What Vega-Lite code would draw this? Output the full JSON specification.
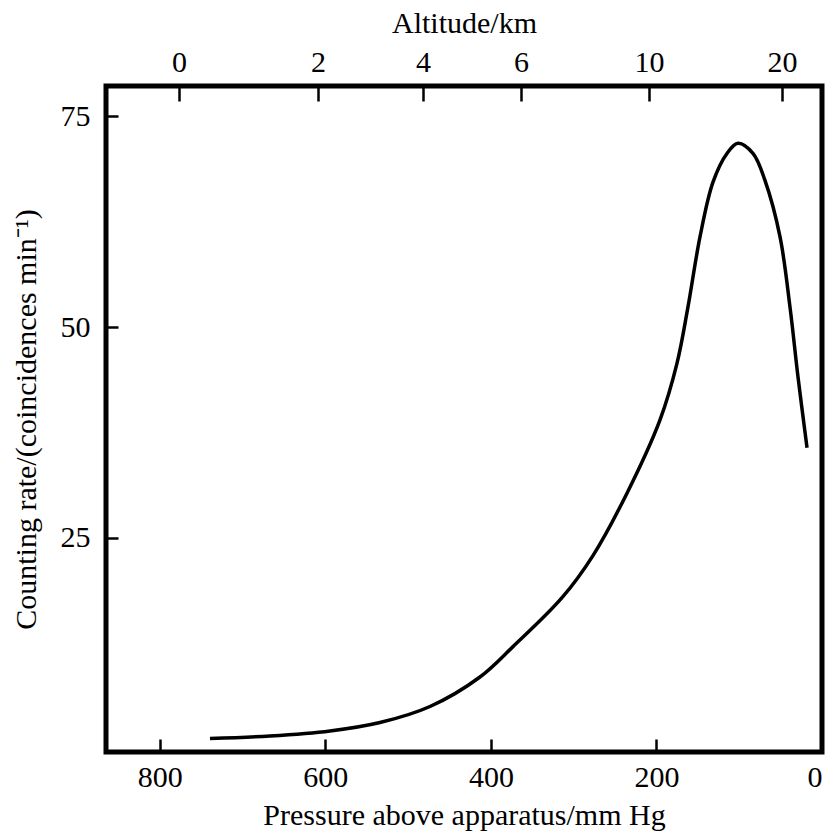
{
  "$schema": "https://vega.github.io/schema/vega-lite/v6.json",
  "width": 716,
  "height": 666,
  "autosize": "none",
  "padding": {"left": 106, "top": 86, "right": 11, "bottom": 86},
  "background": "white",
  "config": {
    "view": {"stroke": "black", "strokeWidth": 5},
    "axis": {
      "labelFont": "Liberation Serif",
      "titleFont": "Liberation Serif",
      "labelFontSize": 30,
      "titleFontSize": 30,
      "titleFontWeight": "normal",
      "labelColor": "black",
      "titleColor": "black",
      "tickColor": "black",
      "tickWidth": 2.5,
      "domain": false,
      "grid": false
    }
  },
  "data": {
    "values": [
      {"p": 739.4, "v": 1.2},
      {"p": 667, "v": 1.5},
      {"p": 594.4, "v": 2.1},
      {"p": 534, "v": 3.1},
      {"p": 473.6, "v": 5.0},
      {"p": 413.2, "v": 8.5},
      {"p": 373.3, "v": 12.1},
      {"p": 314.1, "v": 17.9},
      {"p": 276.7, "v": 22.9},
      {"p": 235.6, "v": 30.3},
      {"p": 195.7, "v": 39.0},
      {"p": 175.2, "v": 45.7},
      {"p": 161.9, "v": 52.4},
      {"p": 147.4, "v": 60.7},
      {"p": 131.7, "v": 67.2},
      {"p": 114.8, "v": 70.6},
      {"p": 101.5, "v": 71.8},
      {"p": 83.4, "v": 70.6},
      {"p": 68.9, "v": 67.4},
      {"p": 50.7, "v": 60.7},
      {"p": 38.7, "v": 52.4},
      {"p": 29.0, "v": 44.1},
      {"p": 18.1, "v": 35.7}
    ]
  },
  "encoding": {
    "y": {
      "field": "v", "type": "quantitative",
      "scale": {"domain": [-0.4, 78.6], "nice": false, "zero": false},
      "axis": {
        "title": "Counting rate/(coincidences min⁻¹)",
        "values": [25, 50, 75],
        "offset": -12,
        "tickSize": 12,
        "labelPadding": 16,
        "titlePadding": 19
      }
    }
  },
  "layer": [
    {
      "mark": {"type": "line", "color": "black", "strokeWidth": 3.5, "interpolate": "catmull-rom"},
      "encoding": {
        "x": {
          "field": "p", "type": "quantitative",
          "scale": {"domain": [865, 0], "nice": false, "zero": false},
          "axis": {
            "orient": "bottom",
            "title": "Pressure above apparatus/mm Hg",
            "values": [800, 600, 400, 200, 0],
            "offset": -13,
            "tickSize": 13,
            "labelPadding": 10,
            "titlePadding": 8
          }
        }
      }
    },
    {
      "mark": {"type": "line", "opacity": 0},
      "encoding": {
        "x": {
          "field": "p", "type": "quantitative",
          "axis": {
            "orient": "top",
            "title": "Altitude/km",
            "values": [776.8, 608.9, 482.1, 363.7, 209.0, 48.3],
            "labelExpr": "datum.value > 700 ? '0' : datum.value > 550 ? '2' : datum.value > 420 ? '4' : datum.value > 300 ? '6' : datum.value > 100 ? '10' : '20'",
            "offset": -15,
            "tickSize": 15,
            "labelPadding": 9,
            "titlePadding": 9
          }
        }
      }
    }
  ],
  "resolve": {"axis": {"x": "independent"}}
}
